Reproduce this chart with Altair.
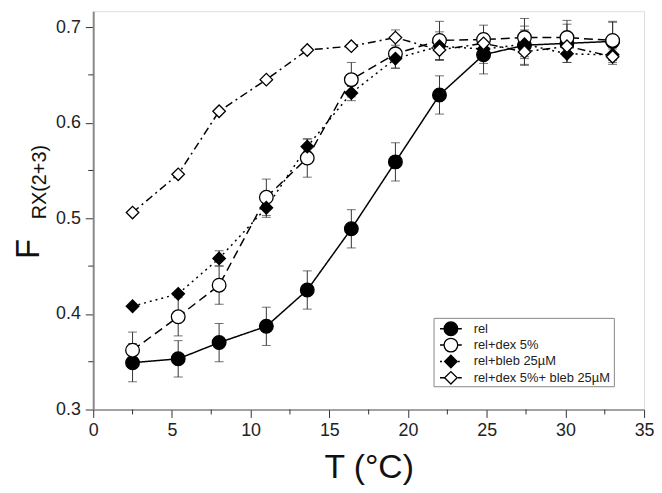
import altair as alt
import pandas as pd

# ---- data ----
T_rel = [2.5, 5.4, 8.0, 11.0, 13.6, 16.4, 19.2, 22.0, 24.8, 27.4, 30.1, 33.0]
rel = [0.349, 0.353, 0.370, 0.387, 0.425, 0.489, 0.559, 0.629, 0.671, 0.681, 0.683, 0.685]
rel_err = [0.020, 0.019, 0.020, 0.020, 0.020, 0.020, 0.020, 0.020, 0.020, 0.020, 0.020, 0.020]

dex = [0.362, 0.397, 0.430, 0.522, 0.563, 0.645, 0.672, 0.686, 0.687, 0.689, 0.689, 0.686]
dex_err = [0.019, 0.020, 0.020, 0.019, 0.020, 0.018, 0.015, 0.020, 0.015, 0.020, 0.018, 0.020]

bleb = [0.408, 0.421, 0.458, 0.511, 0.575, 0.631, 0.667, 0.680, 0.677, 0.682, 0.672, 0.671]
bleb_err = [0.0, 0.0, 0.008, 0.010, 0.008, 0.008, 0.010, 0.015, 0.015, 0.015, 0.009, 0.008]

dexbleb = [0.506, 0.546, 0.612, 0.645, 0.676, 0.680, 0.689, 0.676, 0.683, 0.674, 0.680, 0.669]
dexbleb_err = [0.0, 0.0, 0.0, 0.0, 0.0, 0.0, 0.008, 0.010, 0.010, 0.014, 0.010, 0.008]

names = ["rel", "rel+dex 5%", "rel+bleb 25µM", "rel+dex 5%+ bleb 25µM"]
values = [rel, dex, bleb, dexbleb]
errors = [rel_err, dex_err, bleb_err, dexbleb_err]

x_ticks = [0, 5, 10, 15, 20, 25, 30, 35]
x_minor_ticks = [2.5, 7.5, 12.5, 17.5, 22.5, 27.5, 32.5]
y_ticks = [0.3, 0.4, 0.5, 0.6, 0.7]
y_minor_ticks = [0.35, 0.45, 0.55, 0.65]

# ---- styles ----
shapes = ["circle", "circle", "diamond", "diamond"]
fills = ["black", "white", "black", "white"]
sizes = [190, 190, 160, 160]
dashes = [[1, 0], [9, 5], [2, 4], [8, 4, 2, 4]]

W, H = 556, 402
YMAX = 0.3 + H / 965.0
FONT = "Liberation Sans"

xscale = alt.Scale(domain=[0, 35], nice=False)
yscale = alt.Scale(domain=[0.3, YMAX], nice=False, zero=False)

frames = []
for n, v, e in zip(names, values, errors):
    frames.append(pd.DataFrame({"T": T_rel, "F": v, "err": e, "series": n}))
df = pd.concat(frames, ignore_index=True)
df["lo"] = df["F"] - df["err"]
df["hi"] = df["F"] + df["err"]
dfe = df[df["err"] > 0]

x_major = alt.X("T:Q", scale=xscale,
                axis=alt.Axis(values=x_ticks, title="T (°C)",
                              orient="bottom", format="d",
                              tickSize=8, tickColor="#333", domainColor="#555",
                              labelFontSize=18, labelFont=FONT, labelColor="#222",
                              titleFont=FONT, titleFontSize=34, titleFontWeight="normal",
                              titleColor="#111", labelPadding=4, titlePadding=12,
                              grid=False, labelFlush=False))
y_major = alt.Y("F:Q", scale=yscale,
                axis=alt.Axis(values=y_ticks, title=None, orient="left",
                              format=".1f", tickSize=8, tickColor="#333",
                              domainColor="#888", domainWidth=2,
                              labelFontSize=18, labelFont=FONT, labelColor="#222",
                              labelPadding=5, grid=False, labelFlush=False))

base_layer = alt.Chart(df).mark_point(opacity=0).encode(x=x_major, y=y_major)
layers = [base_layer]

xs = alt.X("T:Q", scale=xscale)
ys = alt.Y("F:Q", scale=yscale)

# minor ticks
layers.append(alt.Chart(pd.DataFrame({"T": x_minor_ticks})).mark_rule(color="#333", strokeWidth=1).encode(
    x=xs, y=alt.value(H), y2=alt.value(H + 5)))
layers.append(alt.Chart(pd.DataFrame({"F": y_minor_ticks})).mark_rule(color="#333", strokeWidth=1).encode(
    y=ys, x=alt.value(-5), x2=alt.value(0)))

# error bars
layers.append(alt.Chart(dfe).mark_rule(color="#333", strokeWidth=1).encode(
    x=xs, y=alt.Y("lo:Q", scale=yscale), y2="hi:Q"))
layers.append(alt.Chart(dfe).mark_tick(color="#333", thickness=1, size=9, orient="horizontal").encode(
    x=xs, y=alt.Y("lo:Q", scale=yscale)))
layers.append(alt.Chart(dfe).mark_tick(color="#333", thickness=1, size=9, orient="horizontal").encode(
    x=xs, y=alt.Y("hi:Q", scale=yscale)))

# lines
for i, n in enumerate(names):
    layers.append(alt.Chart(df[df["series"] == n]).mark_line(
        color="black", strokeWidth=1.5, strokeDash=dashes[i]).encode(x=xs, y=ys))

# points
for i, n in enumerate(names):
    layers.append(alt.Chart(df[df["series"] == n]).mark_point(
        shape=shapes[i], filled=True, fill=fills[i], stroke="black", strokeWidth=1.3,
        size=sizes[i], opacity=1).encode(x=xs, y=ys))

# y-axis title: F with subscript RX(2+3)
one = pd.DataFrame({"a": [0]})
layers.append(alt.Chart(one).mark_text(text="F", angle=270, align="left", baseline="alphabetic",
                                       font=FONT, fontSize=33, color="#111").encode(
    x=alt.value(-55), y=alt.value(250)))
layers.append(alt.Chart(one).mark_text(text="RX(2+3)", angle=270, align="left", baseline="alphabetic",
                                       font=FONT, fontSize=20, color="#111").encode(
    x=alt.value(-48), y=alt.value(210)))

# legend
lx0, lx1, ly0, ly1 = 344, 526, 310, 379
layers.append(alt.Chart(one).mark_rect(fill="white", stroke="#888", strokeWidth=1).encode(
    x=alt.value(lx0), x2=alt.value(lx1), y=alt.value(ly0), y2=alt.value(ly1)))
rows = [320.5, 337, 353.5, 370]
for i, n in enumerate(names):
    yy = rows[i]
    layers.append(alt.Chart(one).mark_rule(color="black", strokeWidth=1.5, strokeDash=dashes[i]).encode(
        x=alt.value(350), x2=alt.value(372), y=alt.value(yy)))
    layers.append(alt.Chart(one).mark_point(shape=shapes[i], filled=True, fill=fills[i], stroke="black",
                                            strokeWidth=1.3, size=sizes[i], opacity=1).encode(
        x=alt.value(361), y=alt.value(yy)))
    layers.append(alt.Chart(one).mark_text(text=n, align="left", baseline="middle", font=FONT,
                                           fontSize=13, color="#222").encode(
        x=alt.value(384), y=alt.value(yy)))

chart = alt.layer(*layers).properties(
    width=W, height=H,
    autosize=alt.AutoSizeParams(type="none"),
    padding={"left": 86, "top": 1, "right": 10, "bottom": 80},
).configure_view(stroke=None).configure(background="white")

chart.save("out.html", embed_options={"renderer": "svg", "actions": False})
